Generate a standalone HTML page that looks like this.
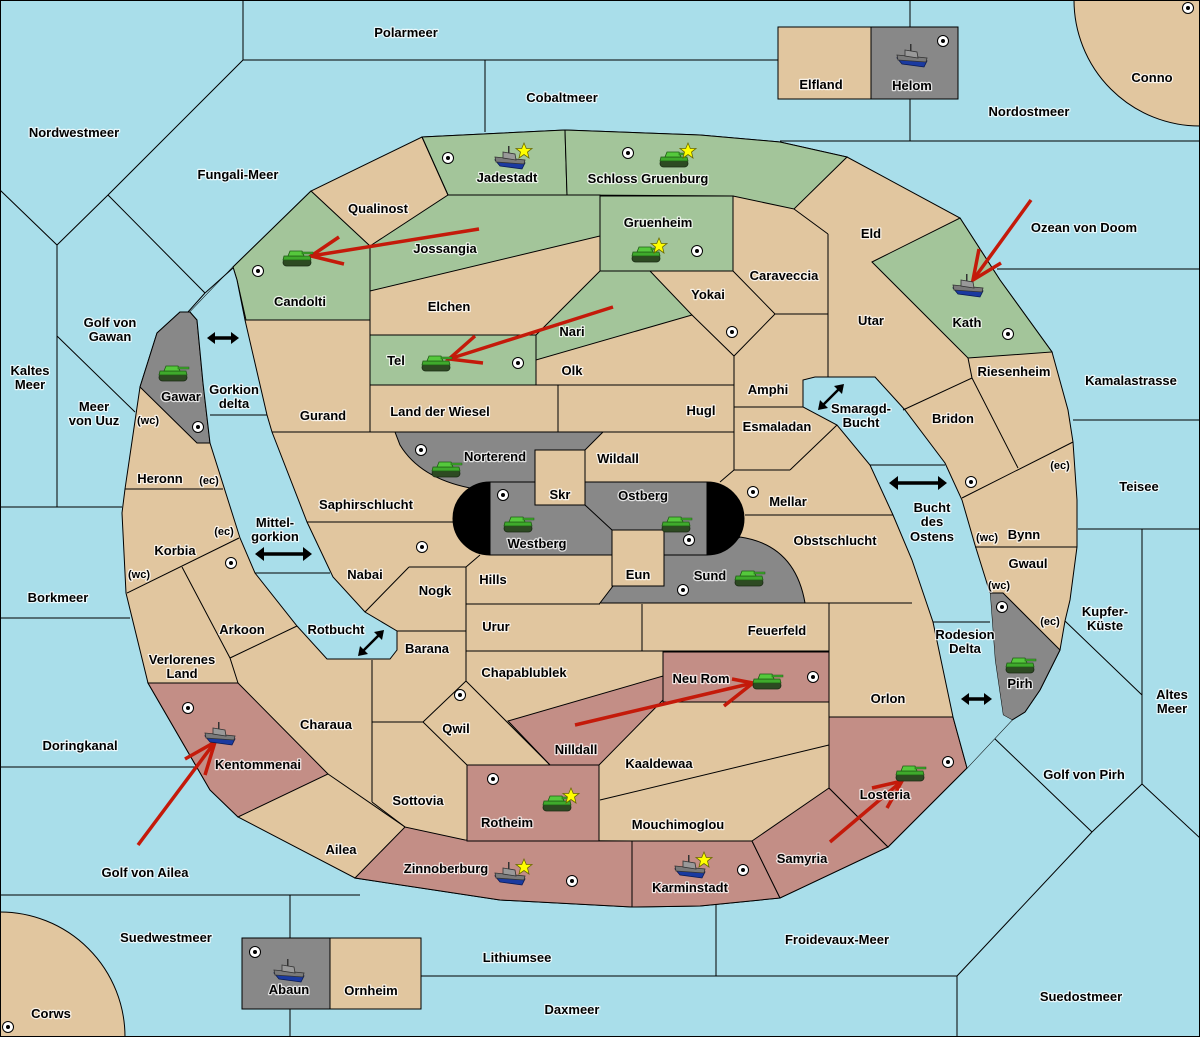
<!DOCTYPE html>
<html><head><meta charset="utf-8"><style>
html,body{margin:0;padding:0;background:#a9deea;width:1200px;height:1037px;overflow:hidden;position:relative}
svg{display:block;position:absolute;left:0;top:0;overflow:hidden}
text{font-family:"Liberation Sans",sans-serif;font-weight:bold;font-size:13px;fill:#000;stroke:rgba(255,255,255,0.75);stroke-width:2.5px;paint-order:stroke;stroke-linejoin:round;text-anchor:middle}
text.s{font-size:11px}
</style></head><body>
<svg width="1200" height="1037" viewBox="0 0 1200 1037" xmlns="http://www.w3.org/2000/svg">
<defs>
<clipPath id="cp"><rect x="0" y="0" width="1200" height="1037"/></clipPath>
<g id="tank">
<rect x="-14" y="1" width="28" height="7" rx="3.5" fill="#2d4a22" stroke="#1a2a14" stroke-width="0.8"/>
<path d="M-13 -2 L13 -2 L14 2 L-14 2 Z" fill="#3faa2c" stroke="#1f5c14" stroke-width="0.8"/>
<path d="M-7 -7 L5 -7 L7 -2 L-9 -2 Z" fill="#55c83c" stroke="#1f5c14" stroke-width="0.8"/>
<rect x="5" y="-6" width="11" height="2" fill="#3faa2c" stroke="#1f5c14" stroke-width="0.5"/>
</g>
<g id="ship">
<path d="M-15 0 L15 3 L12 9 L-10 6 Z" fill="#1a3aa0" stroke="#0a1a50" stroke-width="0.8"/>
<path d="M-15 -3 L15 0 L14 4 L-14 2 Z" fill="#7a7a7a" stroke="#333" stroke-width="0.8"/>
<path d="M-7 -8 L5 -6 L6 0 L-7 -2 Z" fill="#999" stroke="#333" stroke-width="0.8"/>
<rect x="-2" y="-14" width="1.5" height="7" fill="#333"/>
</g>
<g id="dot"><circle r="5.5" fill="#fff" stroke="#000" stroke-width="1"/><circle r="2" fill="#000"/></g>
<polygon id="star" points="0,-8 2.3,-2.5 8,-2.5 3.5,1 5,7 0,3.5 -5,7 -3.5,1 -8,-2.5 -2.3,-2.5" fill="#ffff00" stroke="#6a6a00" stroke-width="0.8"/>
</defs>
<g clip-path="url(#cp)">
<rect x="0" y="0" width="1200" height="1037" fill="#a9deea"/>

<g stroke="#000" stroke-width="1" fill="none">
<polyline points="243,0 243,60 108,195 57,245 0,190"/>
<line x1="57" y1="245" x2="57" y2="507"/>
<line x1="108" y1="195" x2="205" y2="293"/>
<line x1="57" y1="336" x2="135" y2="412"/>
<line x1="0" y1="507" x2="122" y2="507"/>
<line x1="0" y1="618" x2="130" y2="618"/>
<line x1="0" y1="767" x2="200" y2="767"/>
<line x1="0" y1="895" x2="360" y2="895"/>
<line x1="290" y1="895" x2="290" y2="938"/>
<line x1="290" y1="1008" x2="290" y2="1037"/>
<line x1="421" y1="976" x2="957" y2="976"/>
<line x1="716" y1="905" x2="716" y2="976"/>
<line x1="957" y1="976" x2="957" y2="1037"/>
<line x1="957" y1="976" x2="1092" y2="832"/>
<line x1="243" y1="60" x2="778" y2="60"/>
<line x1="485" y1="60" x2="485" y2="132"/>
<line x1="910" y1="0" x2="910" y2="27"/>
<line x1="910" y1="99" x2="910" y2="141"/>
<line x1="780" y1="141" x2="1200" y2="141"/>
<line x1="997" y1="269" x2="1200" y2="269"/>
<line x1="1073" y1="420" x2="1200" y2="420"/>
<line x1="1078" y1="529" x2="1200" y2="529"/>
<line x1="1142" y1="529" x2="1142" y2="784"/>
<line x1="1065" y1="621" x2="1142" y2="695"/>
<polyline points="1012,720 993,737 970,758"/>
<line x1="993" y1="737" x2="1092" y2="832"/>
<line x1="1142" y1="784" x2="1092" y2="832"/>
<line x1="1142" y1="784" x2="1200" y2="838"/>
</g>

<circle cx="1200" cy="0" r="126" fill="#e1c69f" stroke="#000"/>
<circle cx="0" cy="1037" r="125" fill="#e1c69f" stroke="#000"/>

<rect x="778" y="27" width="93" height="72" fill="#e1c69f" stroke="#000"/>
<rect x="871" y="27" width="87" height="72" fill="#888" stroke="#000"/>
<rect x="242" y="938" width="88" height="71" fill="#888" stroke="#000"/>
<rect x="330" y="938" width="91" height="71" fill="#e1c69f" stroke="#000"/>

<polygon fill="#e1c69f" stroke="#000" stroke-width="1" points="233,267 311,191 422,137 565,130 700,135 780,142 847,157 960,218 1000,280 1052,352 1068,410 1073,442 1077,500 1077,547 1070,600 1065,621 1060,650 1040,690 1025,712 1012,720 967,768 888,847 780,898 700,906 632,907 500,900 355,878 238,817 210,790 148,683 126,593 122,513 125,489 140,387 157,333 180,312 190,312"/>

<g stroke="#000" stroke-width="1">
<g fill="#a3c59a">
<polygon points="422,137 565,130 567,195 448,195"/>
<polygon points="565,130 700,135 780,142 847,157 794,209 733,196 567,195"/>
<polygon points="600,196 733,196 733,271 600,271"/>
<polygon points="448,195 600,195 600,236 370,291 370,246"/>
<polygon points="233,267 311,191 370,246 370,320 246,320 237,280"/>
<polygon points="600,271 650,271 692,315 536,360 536,335"/>
<polygon points="370,335 536,335 536,385 370,385"/>
<polygon points="872,262 960,218 1000,280 1052,352 968,358"/>
</g>
<g fill="#c38e86">
<polygon points="148,683 238,683 328,774 238,817 210,790"/>
<polygon points="355,878 405,827 465,840 632,841 632,907 500,900"/>
<polygon points="467,765 599,765 599,841 467,841"/>
<polygon points="508,721 663,676 663,700 599,765 550,765"/>
<polygon points="663,652 829,652 829,702 663,702"/>
<polygon points="632,841 752,841 780,898 700,906 632,907"/>
<polygon points="752,841 829,788 888,847 780,898"/>
<polygon points="829,717 953,717 967,768 888,847 829,788"/>
</g>
<g fill="#888">
<polygon points="157,333 180,312 190,312 197,320 203,383 210,443 197,443 140,387"/>
<polygon points="990,593 1003,593 1060,650 1040,690 1025,712 1012,720 1003,715 995,660"/>
<path d="M395,432 L603,432 L585,450 L535,450 L535,482 L490,482 L470,488 Q420,478 400,445 Z"/>
<rect x="490" y="482" width="217" height="73"/>
<path d="M600,603 L613,586 L664,586 L664,555 L707,555 L740,537 Q795,545 805,603 Z"/>
</g>
<path d="M490,482 A37,36.5 0 0 0 490,555 Z" fill="#000"/>
<path d="M707,482 A37,36.5 0 0 1 707,555 Z" fill="#000"/>
<g fill="#e1c69f">
<rect x="535" y="450" width="50" height="55"/>
<rect x="612" y="530" width="52" height="56"/>
</g>
<line x1="585" y1="505" x2="612" y2="530"/>
</g>

<polygon fill="#a9deea" points="190,312 197,320 203,383 210,443 240,538 255,573 297,626 327,659 390,659 397,650 397,631 365,612 333,577 307,522 272,432 267,415 245,320 237,280 233,267"/>
<polygon fill="#a9deea" points="803,380 815,377 875,377 905,410 945,463 962,500 975,545 990,593 995,660 1003,715 1012,720 967,768 953,717 933,622 912,560 893,515 870,465 837,425 803,407"/>
<g stroke="#000" stroke-width="1" fill="none">
<line x1="205" y1="293" x2="233" y2="268"/>
<line x1="205" y1="293" x2="188" y2="312"/>
<polyline points="190,312 197,320 203,383 210,443 240,538 255,573 297,626 327,659 390,659 397,650 397,631 365,612 333,577 307,522 272,432 267,415 245,320 237,280 233,267"/>
<polyline points="967,768 953,717 933,622 912,560 893,515 870,465 837,425 803,407 803,380 815,377 875,377 905,410 945,463 962,500 975,545 990,593"/>
<line x1="210" y1="415" x2="267" y2="415"/>
<line x1="255" y1="573" x2="330" y2="573"/>
<line x1="933" y1="622" x2="990" y2="622"/>
<line x1="870" y1="465" x2="945" y2="465"/>

<line x1="422" y1="137" x2="448" y2="195"/>
<line x1="370" y1="291" x2="370" y2="432"/>
<line x1="272" y1="432" x2="395" y2="432"/>
<line x1="370" y1="385" x2="734" y2="385"/>
<line x1="603" y1="432" x2="734" y2="432"/>
<line x1="558" y1="385" x2="558" y2="432"/>
<polyline points="733,271 775,314 734,356 692,315"/>
<line x1="734" y1="356" x2="734" y2="470"/>
<line x1="794" y1="209" x2="828" y2="234"/>
<line x1="828" y1="234" x2="828" y2="377"/>
<line x1="775" y1="314" x2="828" y2="314"/>
<line x1="734" y1="407" x2="803" y2="407"/>
<line x1="837" y1="425" x2="790" y2="470"/>
<line x1="734" y1="470" x2="790" y2="470"/>
<line x1="734" y1="470" x2="720" y2="482"/>
<line x1="745" y1="515" x2="893" y2="515"/>
<line x1="968" y1="358" x2="972" y2="378"/>
<line x1="903" y1="410" x2="972" y2="378"/>
<line x1="972" y1="378" x2="1018" y2="468"/>
<line x1="962" y1="498" x2="1073" y2="442"/>
<line x1="975" y1="547" x2="1077" y2="547"/>
<line x1="805" y1="603" x2="912" y2="603"/>
<line x1="466" y1="604" x2="600" y2="604"/>
<line x1="642" y1="604" x2="642" y2="651"/>
<line x1="829" y1="603" x2="829" y2="717"/>
<line x1="466" y1="651" x2="829" y2="651"/>
<line x1="600" y1="800" x2="829" y2="745"/>
<line x1="599" y1="841" x2="752" y2="841"/>
<line x1="466" y1="681" x2="550" y2="765"/>
<line x1="372" y1="660" x2="372" y2="802"/>
<line x1="372" y1="722" x2="423" y2="722"/>
<line x1="423" y1="722" x2="466" y2="681"/>
<line x1="423" y1="722" x2="467" y2="765"/>
<line x1="372" y1="802" x2="405" y2="827"/>
<line x1="328" y1="774" x2="405" y2="827"/>
<line x1="466" y1="567" x2="466" y2="681"/>
<line x1="397" y1="631" x2="466" y2="631"/>
<line x1="409" y1="567" x2="466" y2="567"/>
<line x1="466" y1="567" x2="480" y2="555"/>
<line x1="409" y1="567" x2="365" y2="612"/>
<line x1="307" y1="522" x2="453" y2="522"/>
<line x1="600" y1="555" x2="612" y2="555"/>
<line x1="127" y1="593" x2="239" y2="538"/>
<polyline points="182,567 230,658 238,683"/>
<line x1="230" y1="658" x2="297" y2="626"/>
<line x1="125" y1="489" x2="223" y2="489"/>
</g>

<g stroke="#c41a0a" stroke-width="3.5" fill="none" stroke-linecap="butt">
<line x1="479" y1="229" x2="311" y2="256"/><polyline points="339,237 311,256 344,264"/>
<line x1="613" y1="307" x2="449" y2="359"/><polyline points="475,336 449,359 483,363"/>
<line x1="575" y1="725" x2="753" y2="683"/><polyline points="732,679 753,683 724,706"/>
<line x1="830" y1="842" x2="902" y2="781"/><polyline points="872,788 902,781 887,808"/>
<line x1="138" y1="845" x2="215" y2="742"/><polyline points="185,759 215,742 205,775"/>
<line x1="1031" y1="200" x2="973" y2="280"/><polyline points="979,249 973,280 1001,263"/>
</g>

<g stroke="#000" stroke-width="3.5" fill="#000">
<line x1="213" y1="338" x2="233" y2="338"/><polygon points="207,338 215,332 215,344" stroke="none"/><polygon points="239,338 231,332 231,344" stroke="none"/>
<line x1="262" y1="554" x2="305" y2="554"/><polygon points="255,554 264,547 264,561" stroke="none"/><polygon points="312,554 303,547 303,561" stroke="none"/>
<line x1="896" y1="483" x2="940" y2="483"/><polygon points="889,483 898,476 898,490" stroke="none"/><polygon points="947,483 938,476 938,490" stroke="none"/>
<line x1="967" y1="699" x2="986" y2="699"/><polygon points="961,699 969,693 969,705" stroke="none"/><polygon points="992,699 984,693 984,705" stroke="none"/>
<line x1="362" y1="652" x2="380" y2="634" stroke-width="2.5"/><polygon points="358,656 360,646 368,654" stroke="none"/><polygon points="384,630 374,632 382,640" stroke="none"/>
<line x1="822" y1="406" x2="840" y2="388" stroke-width="2.5"/><polygon points="818,410 820,400 828,408" stroke="none"/><polygon points="844,384 834,386 842,394" stroke="none"/>
</g>

<use href="#tank" x="297" y="258"/><use href="#tank" x="436" y="363"/><use href="#tank" x="646" y="254"/>
<use href="#tank" x="674" y="159"/><use href="#tank" x="173" y="373"/><use href="#tank" x="446" y="469"/>
<use href="#tank" x="518" y="524"/><use href="#tank" x="676" y="524"/><use href="#tank" x="749" y="578"/>
<use href="#tank" x="767" y="681"/><use href="#tank" x="910" y="773"/><use href="#tank" x="557" y="803"/>
<use href="#tank" x="1020" y="665"/>
<use href="#ship" x="510" y="160"/><use href="#ship" x="912" y="58"/><use href="#ship" x="968" y="288"/>
<use href="#ship" x="220" y="736"/><use href="#ship" x="510" y="876"/><use href="#ship" x="690" y="869"/>
<use href="#ship" x="289" y="973"/>
<use href="#star" x="524" y="151"/><use href="#star" x="688" y="151"/><use href="#star" x="659" y="246"/>
<use href="#star" x="571" y="796"/><use href="#star" x="524" y="867"/><use href="#star" x="704" y="860"/>
<g>
<use href="#dot" x="448" y="158"/><use href="#dot" x="628" y="153"/><use href="#dot" x="697" y="251"/>
<use href="#dot" x="258" y="271"/><use href="#dot" x="518" y="363"/><use href="#dot" x="732" y="332"/>
<use href="#dot" x="1008" y="334"/><use href="#dot" x="198" y="427"/><use href="#dot" x="421" y="450"/>
<use href="#dot" x="503" y="495"/><use href="#dot" x="689" y="540"/><use href="#dot" x="753" y="492"/>
<use href="#dot" x="422" y="547"/><use href="#dot" x="683" y="590"/><use href="#dot" x="971" y="482"/>
<use href="#dot" x="1002" y="607"/><use href="#dot" x="231" y="563"/><use href="#dot" x="460" y="695"/>
<use href="#dot" x="813" y="677"/><use href="#dot" x="948" y="762"/><use href="#dot" x="188" y="708"/>
<use href="#dot" x="493" y="779"/><use href="#dot" x="572" y="881"/><use href="#dot" x="743" y="870"/>
<use href="#dot" x="943" y="41"/><use href="#dot" x="1188" y="8"/><use href="#dot" x="255" y="952"/>
<use href="#dot" x="8" y="1027"/>
</g>

<text x="406" y="37">Polarmeer</text>
<text x="562" y="102">Cobaltmeer</text>
<text x="74" y="137">Nordwestmeer</text>
<text x="238" y="179">Fungali-Meer</text>
<text x="821" y="89">Elfland</text>
<text x="912" y="90">Helom</text>
<text x="1152" y="82">Conno</text>
<text x="1029" y="116">Nordostmeer</text>
<text x="1084" y="232">Ozean von Doom</text>
<text x="507" y="182">Jadestadt</text>
<text x="648" y="183">Schloss Gruenburg</text>
<text x="378" y="213">Qualinost</text>
<text x="658" y="227">Gruenheim</text>
<text x="445" y="253">Jossangia</text>
<text x="871" y="238">Eld</text>
<text x="300" y="306">Candolti</text>
<text x="449" y="311">Elchen</text>
<text x="784" y="280">Caraveccia</text>
<text x="708" y="299">Yokai</text>
<text x="110" y="327">Golf von</text><text x="110" y="341">Gawan</text>
<text x="572" y="336">Nari</text>
<text x="871" y="325">Utar</text>
<text x="967" y="327">Kath</text>
<text x="30" y="375">Kaltes</text><text x="30" y="389">Meer</text>
<text x="396" y="365">Tel</text>
<text x="572" y="375">Olk</text>
<text x="1014" y="376">Riesenheim</text>
<text x="1131" y="385">Kamalastrasse</text>
<text x="768" y="394">Amphi</text>
<text x="181" y="401">Gawar</text>
<text x="234" y="394">Gorkion</text><text x="234" y="408">delta</text>
<text x="94" y="411">Meer</text><text x="94" y="425">von Uuz</text>
<text x="861" y="413">Smaragd-</text><text x="861" y="427">Bucht</text>
<text x="323" y="420">Gurand</text>
<text x="440" y="416">Land der Wiesel</text>
<text x="701" y="415">Hugl</text>
<text x="953" y="423">Bridon</text>
<text class="s" x="148" y="424">(wc)</text>
<text x="777" y="431">Esmaladan</text>
<text x="495" y="461">Norterend</text>
<text x="618" y="463">Wildall</text>
<text x="160" y="483">Heronn</text>
<text class="s" x="209" y="484">(ec)</text>
<text class="s" x="1060" y="469">(ec)</text>
<text x="1139" y="491">Teisee</text>
<text x="560" y="499">Skr</text>
<text x="643" y="500">Ostberg</text>
<text x="788" y="506">Mellar</text>
<text x="932" y="512">Bucht</text><text x="932" y="526">des</text><text x="932" y="541">Ostens</text>
<text x="366" y="509">Saphirschlucht</text>
<text class="s" x="224" y="535">(ec)</text>
<text x="275" y="527">Mittel-</text><text x="275" y="541">gorkion</text>
<text x="1024" y="539">Bynn</text>
<text class="s" x="987" y="541">(wc)</text>
<text x="175" y="555">Korbia</text>
<text x="537" y="548">Westberg</text>
<text x="835" y="545">Obstschlucht</text>
<text x="1028" y="568">Gwaul</text>
<text x="365" y="579">Nabai</text>
<text class="s" x="139" y="578">(wc)</text>
<text x="638" y="579">Eun</text>
<text x="710" y="580">Sund</text>
<text x="493" y="584">Hills</text>
<text class="s" x="999" y="589">(wc)</text>
<text x="435" y="595">Nogk</text>
<text x="58" y="602">Borkmeer</text>
<text x="1105" y="616">Kupfer-</text><text x="1105" y="630">Küste</text>
<text class="s" x="1050" y="625">(ec)</text>
<text x="496" y="631">Urur</text>
<text x="777" y="635">Feuerfeld</text>
<text x="242" y="634">Arkoon</text>
<text x="336" y="634">Rotbucht</text>
<text x="965" y="639">Rodesion</text><text x="965" y="653">Delta</text>
<text x="427" y="653">Barana</text>
<text x="182" y="664">Verlorenes</text><text x="182" y="678">Land</text>
<text x="524" y="677">Chapablublek</text>
<text x="701" y="683">Neu Rom</text>
<text x="1020" y="688">Pirh</text>
<text x="888" y="703">Orlon</text>
<text x="1172" y="699">Altes</text><text x="1172" y="713">Meer</text>
<text x="326" y="729">Charaua</text>
<text x="456" y="733">Qwil</text>
<text x="80" y="750">Doringkanal</text>
<text x="576" y="754">Nilldall</text>
<text x="659" y="768">Kaaldewaa</text>
<text x="258" y="769">Kentommenai</text>
<text x="1084" y="779">Golf von Pirh</text>
<text x="885" y="799">Losteria</text>
<text x="418" y="805">Sottovia</text>
<text x="507" y="827">Rotheim</text>
<text x="678" y="829">Mouchimoglou</text>
<text x="341" y="854">Ailea</text>
<text x="802" y="863">Samyria</text>
<text x="446" y="873">Zinnoberburg</text>
<text x="145" y="877">Golf von Ailea</text>
<text x="690" y="892">Karminstadt</text>
<text x="166" y="942">Suedwestmeer</text>
<text x="837" y="944">Froidevaux-Meer</text>
<text x="517" y="962">Lithiumsee</text>
<text x="289" y="994">Abaun</text>
<text x="371" y="995">Ornheim</text>
<text x="1081" y="1001">Suedostmeer</text>
<text x="572" y="1014">Daxmeer</text>
<text x="51" y="1018">Corws</text>

<rect x="0.5" y="0.5" width="1199" height="1036" fill="none" stroke="#000"/>
</g>
</svg>
</body></html>
